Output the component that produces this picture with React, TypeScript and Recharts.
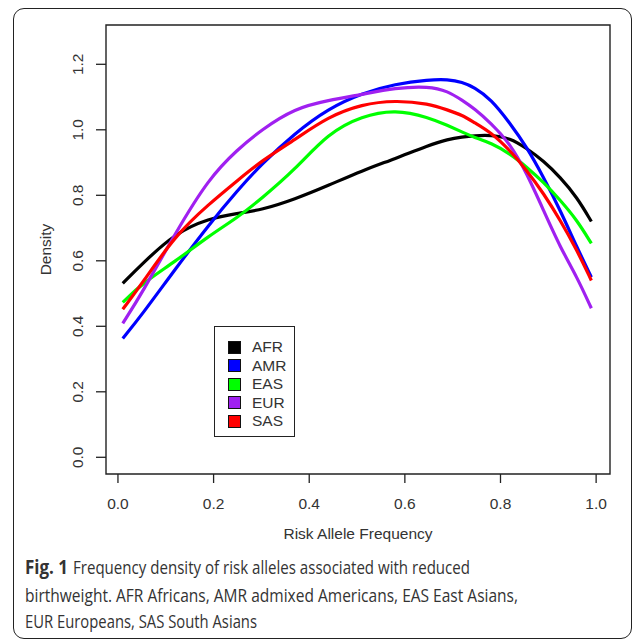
import React from "react";
import { LineChart, Line, XAxis, YAxis, ReferenceArea } from "recharts";

const X = [0.01, 0.05, 0.12, 0.19, 0.25, 0.3, 0.37, 0.44, 0.51, 0.58, 0.65, 0.69, 0.72, 0.745, 0.78, 0.82, 0.855, 0.89, 0.925, 0.96, 0.99];
const AFR = [0.531, 0.59, 0.685, 0.729, 0.745, 0.755, 0.788, 0.83, 0.875, 0.912, 0.953, 0.971, 0.978, 0.982, 0.984, 0.975, 0.943, 0.905, 0.855, 0.794, 0.72];
const AMR = [0.363, 0.435, 0.575, 0.71, 0.815, 0.895, 0.99, 1.065, 1.112, 1.14, 1.153, 1.154, 1.146, 1.13, 1.094, 1.02, 0.947, 0.855, 0.754, 0.641, 0.55];
const EAS = [0.473, 0.53, 0.598, 0.676, 0.732, 0.79, 0.878, 0.99, 1.042, 1.062, 1.038, 1.013, 0.993, 0.977, 0.96, 0.927, 0.886, 0.84, 0.785, 0.724, 0.653];
const EUR = [0.409, 0.5, 0.685, 0.852, 0.94, 1.0, 1.066, 1.09, 1.108, 1.128, 1.133, 1.118, 1.09, 1.065, 1.02, 0.958, 0.867, 0.754, 0.641, 0.55, 0.455];
const SAS = [0.452, 0.53, 0.678, 0.773, 0.845, 0.905, 0.97, 1.04, 1.078, 1.09, 1.08, 1.06, 1.045, 1.022, 0.992, 0.937, 0.876, 0.806, 0.724, 0.632, 0.54];

const SERIES_NAMES = ["AFR", "AMR", "EAS", "EUR", "SAS"];
const SERIES_VALUES = [AFR, AMR, EAS, EUR, SAS];
const SERIES_COLORS = ["#000000", "#0000ff", "#00ff00", "#a020f0", "#ff0000"];

const X_TICKS = [0, 0.2, 0.4, 0.6, 0.8, 1.0];
const Y_TICKS = [0, 0.2, 0.4, 0.6, 0.8, 1.0, 1.2];
const X_DOMAIN: [number, number] = [-0.025, 1.029];
const Y_DOMAIN: [number, number] = [-0.051, 1.32];

const X_TITLE = "Risk Allele Frequency";
const Y_TITLE = "Density";
const CAPTION_BOLD = "Fig. 1";
const CAPTION_LINES = [
  "Frequency density of risk alleles associated with reduced",
  "birthweight. AFR Africans, AMR admixed Americans, EAS East Asians,",
  "EUR Europeans, SAS South Asians",
];

const rows = X.map((x, i) => {
  const r: any = { x };
  SERIES_NAMES.forEach((n, k) => (r[n] = SERIES_VALUES[k][i]));
  return r;
});

const FONT = "'Liberation Sans', Arial, sans-serif";
const CAP_FONT = "'Open Sans', sans-serif";
const TXT = "#333";

const XTick = (props: any) => {
  const { x, payload } = props;
  return (
    <text x={x} y={509} textAnchor="middle" fontSize={15.5} fill={TXT} fontFamily={FONT}>
      {Number(payload.value).toFixed(1)}
    </text>
  );
};

const YTick = (props: any) => {
  const { y, payload } = props;
  return (
    <text
      transform={`translate(83, ${y}) rotate(-90)`}
      textAnchor="middle"
      fontSize={15.5}
      fill={TXT}
      fontFamily={FONT}
    >
      {Number(payload.value).toFixed(1)}
    </text>
  );
};

export default function App() {
  return (
    <div style={{ position: "absolute", left: 0, top: 0, width: 634, height: 641, background: "#fff", overflow: "hidden" }}>
      <div
        style={{
          position: "absolute",
          left: 13,
          top: 8,
          width: 619,
          height: 631,
          border: "1.5px solid #222",
          borderRadius: 11,
          boxSizing: "border-box",
        }}
      />
      <div style={{ position: "absolute", left: 0, top: 0 }}>
        <LineChart width={634} height={560} data={rows} margin={{ top: 25, right: 24, left: 46, bottom: 26 }}>
          <XAxis
            dataKey="x"
            type="number"
            domain={X_DOMAIN}
            ticks={X_TICKS}
            allowDataOverflow
            height={60}
            axisLine={false}
            tickSize={9}
            tickMargin={0}
            tickLine={{ stroke: "#222", strokeWidth: 1.3 }}
            tick={<XTick />}
          />
          <YAxis
            type="number"
            domain={Y_DOMAIN}
            ticks={Y_TICKS}
            allowDataOverflow
            width={60}
            axisLine={false}
            tickSize={10}
            tickMargin={0}
            tickLine={{ stroke: "#222", strokeWidth: 1.3 }}
            tick={<YTick />}
          />
          <ReferenceArea
            x1={X_DOMAIN[0]}
            x2={X_DOMAIN[1]}
            y1={Y_DOMAIN[0]}
            y2={Y_DOMAIN[1]}
            fill="none"
            stroke="#222"
            strokeWidth={1.4}
            ifOverflow="visible"
          />
          {SERIES_NAMES.map((n, k) => (
            <Line
              key={n}
              dataKey={n}
              type="basis"
              stroke={SERIES_COLORS[k]}
              strokeWidth={3.2}
              dot={false}
              isAnimationActive={false}
            />
          ))}
        </LineChart>
      </div>
      <svg style={{ position: "absolute", left: 0, top: 0 }} width={634} height={641}>
        <text x={358} y={539} textAnchor="middle" fontSize={15.5} fill={TXT} fontFamily={FONT}>
          {X_TITLE}
        </text>
        <text transform="translate(51, 249.5) rotate(-90)" textAnchor="middle" fontSize={15.5} fill={TXT} fontFamily={FONT}>
          {Y_TITLE}
        </text>
        <text x={25} y={574} fontSize={19} fontWeight="bold" fill="#333" fontFamily={CAP_FONT} textLength={43} lengthAdjust="spacingAndGlyphs">
          {CAPTION_BOLD}
        </text>
        <text x={73} y={574} fontSize={19} fill="#333" fontFamily={CAP_FONT} textLength={397} lengthAdjust="spacingAndGlyphs">
          {CAPTION_LINES[0]}
        </text>
        <text x={25} y={602} fontSize={19} fill="#333" fontFamily={CAP_FONT} textLength={493} lengthAdjust="spacingAndGlyphs">
          {CAPTION_LINES[1]}
        </text>
        <text x={25} y={628} fontSize={19} fill="#333" fontFamily={CAP_FONT} textLength={232} lengthAdjust="spacingAndGlyphs">
          {CAPTION_LINES[2]}
        </text>
      </svg>
      <div
        style={{
          position: "absolute",
          left: 214,
          top: 326,
          width: 81,
          height: 111,
          border: "1.4px solid #222",
          boxSizing: "border-box",
          background: "#fff",
          fontFamily: FONT,
        }}
      >
        {SERIES_NAMES.map((n, k) => (
          <div key={n} style={{ position: "absolute", left: 0, top: 20 + k * 18.5 - 9, height: 18, width: 80 }}>
            <div
              style={{
                position: "absolute",
                left: 13,
                top: 2.5,
                width: 13,
                height: 13,
                background: SERIES_COLORS[k],
                border: "1px solid #111",
                boxSizing: "border-box",
              }}
            />
            <div style={{ position: "absolute", left: 37, top: 0, lineHeight: "18px", fontSize: 15.5, color: TXT }}>{n}</div>
          </div>
        ))}
      </div>
    </div>
  );
}
